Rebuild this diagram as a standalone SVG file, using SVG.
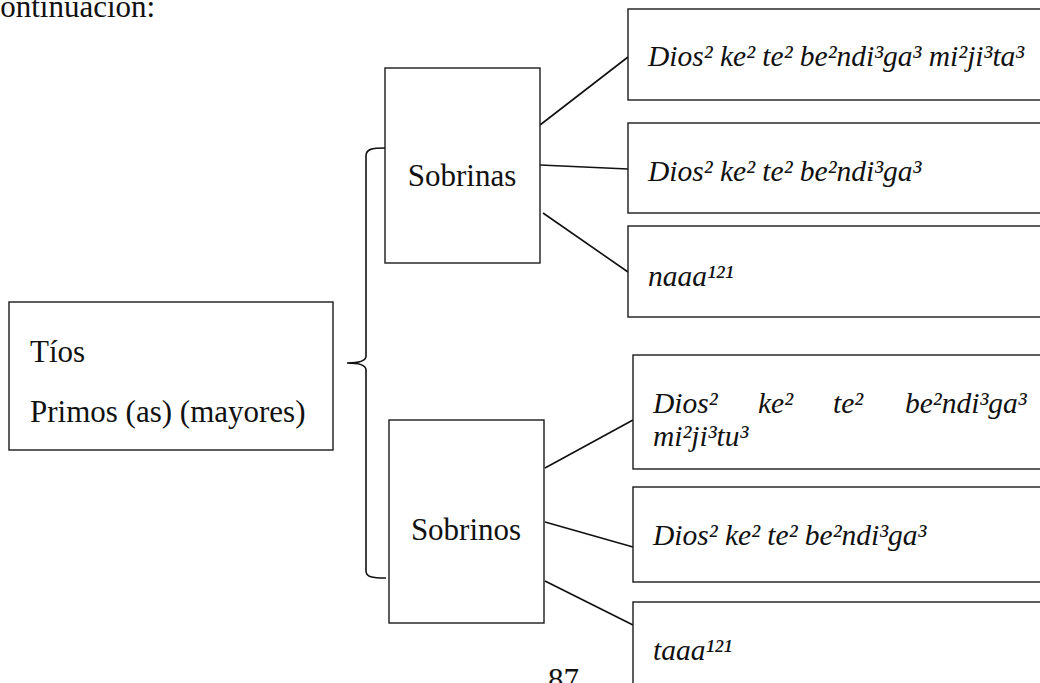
<svg xmlns="http://www.w3.org/2000/svg" width="1040" height="683" viewBox="0 0 1040 683">
  <style>
    .box { fill: #ffffff; stroke: #1a1a1a; stroke-width: 1.4; }
    .link { fill: none; stroke: #111111; stroke-width: 1.6; }
    .t { font-family: "Liberation Serif", "Times New Roman", serif; font-size: 31px; fill: #111111; }
    .it { font-family: "Liberation Serif", "Times New Roman", serif; font-size: 29.5px; font-style: italic; fill: #111111; }
  </style>
  <rect width="1040" height="683" fill="#ffffff"/>

  <text class="t" x="-13.5" y="17" font-size="28">continuación:</text>

  <g id="connectors">
    <path class="link" d="M385,148 C372,148 366,149 366,156 L366,356 C366,361 360,363 347,363 C360,363 366,365 366,370 L366,571 C366,577 372,578 386,578"/>
    <line class="link" x1="540" y1="125" x2="628" y2="57"/>
    <line class="link" x1="540" y1="165" x2="628" y2="169"/>
    <line class="link" x1="543" y1="213" x2="628" y2="272"/>
    <line class="link" x1="545" y1="468" x2="633" y2="420"/>
    <line class="link" x1="545" y1="522" x2="633" y2="547"/>
    <line class="link" x1="545" y1="581" x2="633" y2="625"/>
  </g>

  <g id="tios-primos">
    <rect class="box" x="9" y="302" width="324" height="148"/>
    <text class="t" x="30" y="362">Tíos</text>
    <text class="t" x="30" y="422">Primos (as) (mayores)</text>
  </g>

  <g id="sobrinas">
    <rect class="box" x="385" y="68" width="155" height="195"/>
    <text class="t" x="462" y="186" text-anchor="middle">Sobrinas</text>
  </g>

  <g id="sobrinos">
    <rect class="box" x="389" y="420" width="155" height="203"/>
    <text class="t" x="466" y="540" text-anchor="middle">Sobrinos</text>
  </g>

  <g id="sobrinas-1">
    <rect class="box" x="628" y="9" width="420" height="91"/>
    <text class="it" x="648" y="66">Dios² ke² te² be²ndi³ga³ mi²ji³ta³</text>
  </g>
  <g id="sobrinas-2">
    <rect class="box" x="628" y="123" width="420" height="90"/>
    <text class="it" x="648" y="181">Dios² ke² te² be²ndi³ga³</text>
  </g>
  <g id="sobrinas-3">
    <rect class="box" x="628" y="226" width="420" height="91"/>
    <text class="it" x="648" y="286">naaa¹²¹</text>
  </g>

  <g id="sobrinos-1">
    <rect class="box" x="633" y="355" width="420" height="114"/>
    <text class="it" y="413"><tspan x="653">Dios²</tspan><tspan x="758">ke²</tspan><tspan x="833">te²</tspan><tspan x="905">be²ndi³ga³</tspan></text>
    <text class="it" x="653" y="446">mi²ji³tu³</text>
  </g>
  <g id="sobrinos-2">
    <rect class="box" x="633" y="487" width="420" height="95"/>
    <text class="it" x="653" y="545">Dios² ke² te² be²ndi³ga³</text>
  </g>
  <g id="sobrinos-3">
    <rect class="box" x="633" y="602" width="420" height="100"/>
    <text class="it" x="653" y="660">taaa¹²¹</text>
  </g>

  <text class="t" x="548" y="690">87</text>
</svg>
